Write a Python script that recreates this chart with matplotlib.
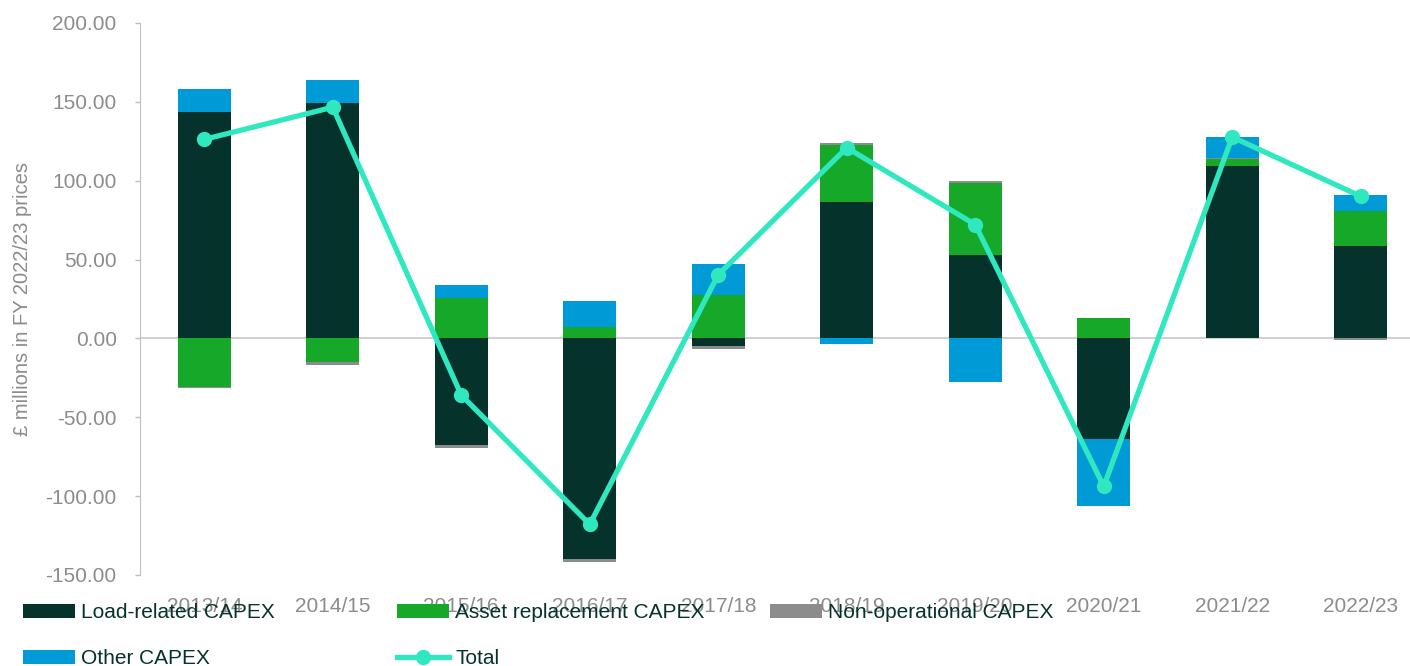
import matplotlib.pyplot as plt
import numpy as np
from matplotlib.patches import Patch
from matplotlib.lines import Line2D

plt.rcParams['font.family'] = ['Liberation Sans', 'DejaVu Sans']

years = ['2013/14', '2014/15', '2015/16', '2016/17', '2017/18',
         '2018/19', '2019/20', '2020/21', '2021/22', '2022/23']
load_related = [143.5, 149.5, -67.5, -139.7, -4.6, 86.6, 53.1, -63.5, 109.2, 58.8]
asset_replacement = [-30.6, -14.7, 25.6, 7.5, 27.7, 36.0, 45.3, 12.8, 4.3, 21.8]
non_operational = [-1.1, -2.1, -2.0, -2.2, -2.1, 1.5, 1.6, 0.0, 1.1, -1.0]
other = [14.8, 14.1, 8.4, 16.5, 19.5, -3.5, -27.5, -43.0, 13.4, 10.6]
total = [126.2, 146.6, -35.9, -117.9, 40.4, 120.9, 72.2, -93.8, 127.7, 90.1]

series = [
    ('Load-related CAPEX', load_related, '#05322a'),
    ('Asset replacement CAPEX', asset_replacement, '#16a828'),
    ('Non-operational CAPEX', non_operational, '#8c8c8c'),
    ('Other CAPEX', other, '#009bd6'),
]
line_color = '#30e8c0'
grey_text = '#8c8c8c'
legend_text = '#05322a'

fig = plt.figure(figsize=(14.1, 6.66), dpi=100)
ax = fig.add_axes([140 / 1410, 91 / 666, 1285 / 1410, 552 / 666])

# stack positives upwards and negatives downwards, like Excel does
x = np.arange(len(years))
pos_base = np.zeros(len(years))
neg_base = np.zeros(len(years))
for name, vals, col in series:
    v = np.array(vals)
    bottom = np.where(v >= 0, pos_base, neg_base)
    ax.bar(x, v, width=0.41, bottom=bottom, color=col, zorder=2)
    pos_base += np.where(v >= 0, v, 0)
    neg_base += np.where(v < 0, v, 0)

ax.plot(x, total, color=line_color, lw=3.8, marker='o', ms=10, zorder=3)

ax.axhline(0, color='#c8c8c8', lw=1.2, zorder=1)
ax.set_xlim(-0.5, len(years) - 0.5)
ax.set_ylim(-150, 200)
yt = np.arange(-150, 201, 50)
ax.set_yticks(yt)
ax.set_yticklabels([f'{t:.2f}' for t in yt])
ax.set_xticks(x)
ax.set_xticklabels(years)
ax.tick_params(axis='both', colors=grey_text, labelsize=15)
ax.tick_params(axis='x', length=0, pad=16)
ax.tick_params(axis='y', length=3.8, width=1, color='#bfbfbf', pad=13)
for s in ['top', 'right', 'bottom']:
    ax.spines[s].set_visible(False)
ax.spines['left'].set_color('#bfbfbf')
ax.set_ylabel('£ millions in FY 2022/23 prices', color=grey_text, fontsize=14.5)
ax.yaxis.set_label_coords(-108 / 1285, 0.5)

handles = [Patch(facecolor=c, label=n) for n, _, c in series]
handles.append(Line2D([], [], color=line_color, lw=3.8, marker='o', ms=10,
                      label='Total'))
columns = [
    ([handles[0], handles[3]], 23),
    ([handles[1], handles[4]], 397),
    ([handles[2]], 770),
]
for hs, xpix in columns:
    leg = fig.legend(handles=hs, loc='upper left',
                     bbox_to_anchor=(xpix / 1410, 1 - 603 / 666),
                     ncol=1, frameon=False, fontsize=15, handlelength=2.5,
                     handleheight=0.68, handletextpad=0.3, labelspacing=1.3,
                     borderpad=0, borderaxespad=0)
    for t in leg.get_texts():
        t.set_color(legend_text)

fig.savefig('out.png', dpi=100)
